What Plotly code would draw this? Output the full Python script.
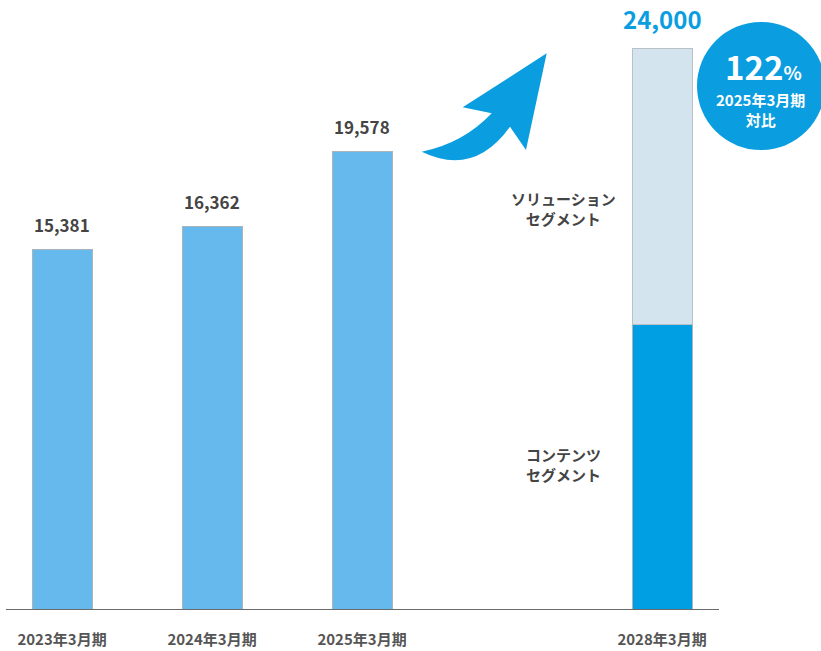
import plotly.graph_objects as go

# ---- data ----
categories = ["2023年3月期", "2024年3月期", "2025年3月期", "2028年3月期"]
cat_pos = [0, 1, 2, 4]
actual_values = [15381, 16362, 19578]
target_total = 24000
contents_value = 12200
solution_value = target_total - contents_value
growth_label = "122"
circle_sub = "2025年3月期<br>対比"

W, H = 821, 651
PLOT_BOTTOM = 610  # pixel row of the axis
FONT = "Noto Sans CJK JP"

def px(x):
    return x / W

def py(y):
    return (PLOT_BOTTOM - y) / PLOT_BOTTOM

fig = go.Figure()

fig.add_trace(go.Bar(
    x=cat_pos[:3], y=actual_values, width=0.4,
    marker=dict(color="#66b9ec", line=dict(color="#a9b4bb", width=1)),
    hoverinfo="skip", showlegend=False,
))
fig.add_trace(go.Bar(
    x=[cat_pos[3]], y=[contents_value], width=0.4,
    marker=dict(color="#009fe3", line=dict(color="#a9b4bb", width=1)),
    hoverinfo="skip", showlegend=False,
))
fig.add_trace(go.Bar(
    x=[cat_pos[3]], y=[solution_value], width=0.4,
    marker=dict(color="#d4e4ee", line=dict(color="#b9c1c6", width=1)),
    hoverinfo="skip", showlegend=False,
))

annotations = []
for xp, v in zip(cat_pos[:3], actual_values):
    annotations.append(dict(
        x=xp, y=v, xref="x", yref="y", text=f"<b>{v:,}</b>", showarrow=False,
        xanchor="center", yanchor="bottom", yshift=11,
        font=dict(family=FONT, size=17, color="#444444"),
    ))
annotations.append(dict(
    x=cat_pos[3], y=target_total, xref="x", yref="y", text=f"<b>{target_total:,}</b>",
    showarrow=False, xanchor="center", yanchor="bottom", yshift=10,
    font=dict(family=FONT, size=24, color="#0a9ee0"),
))
annotations.append(dict(
    x=cat_pos[3], y=contents_value + solution_value * 0.42, xref="x", yref="y",
    text="<b>ソリューション<br>セグメント</b>", showarrow=False, xshift=-99,
    xanchor="center", yanchor="middle",
    font=dict(family=FONT, size=15, color="#444444"), align="center",
))
annotations.append(dict(
    x=cat_pos[3], y=contents_value * 0.51, xref="x", yref="y",
    text="<b>コンテンツ<br>セグメント</b>", showarrow=False, xshift=-99,
    xanchor="center", yanchor="middle",
    font=dict(family=FONT, size=15, color="#444444"), align="center",
))
# circle texts
annotations.append(dict(
    x=px(763), y=py(66), xref="paper", yref="paper", xanchor="center", yanchor="middle",
    text=f"<b>{growth_label}<span style='font-size:19px'>%</span></b>", showarrow=False,
    font=dict(family=FONT, size=33, color="white"),
))
annotations.append(dict(
    x=px(760), y=py(109), xref="paper", yref="paper", xanchor="center", yanchor="middle",
    text=f"<b>{circle_sub}</b>", showarrow=False,
    font=dict(family=FONT, size=15, color="white"), align="center",
))

shapes = []
# axis baseline
shapes.append(dict(type="line", xref="paper", yref="y", x0=px(6), x1=px(719), y0=0, y1=0,
                   line=dict(color="#6b6b6b", width=2)))
# circle
shapes.append(dict(type="circle", xref="paper", yref="paper",
                   x0=px(697), x1=px(825), y0=py(150), y1=py(22),
                   fillcolor="#0a9ee0", line=dict(width=0), layer="above"))
# curved arrow
pts = [("M", (546.7, 53.3)), ("L", (462.7, 107.3)), ("L", (491.7, 113.3)),
       ("Q", (463, 143.5), (421.7, 151.7)), ("Q", (474, 177), (510, 126.7)),
       ("L", (526, 150))]
path = ""
for seg in pts:
    cmd = seg[0]
    coords = " ".join(f"{px(p[0]):.5f},{py(p[1]):.5f}" for p in seg[1:])
    path += f"{cmd} {coords} "
path += "Z"
shapes.append(dict(type="path", xref="paper", yref="paper", path=path,
                   fillcolor="#0a9ee0", line=dict(width=0)))

x_left = -62 / 150
x_right = (W - 62) / 150
y_max = PLOT_BOTTOM / ((PLOT_BOTTOM - 48) / target_total)

fig.update_layout(
    width=W, height=H, barmode="stack",
    margin=dict(l=0, r=0, t=0, b=H - PLOT_BOTTOM),
    paper_bgcolor="white", plot_bgcolor="white",
    xaxis=dict(range=[x_left, x_right], tickmode="array", tickvals=cat_pos,
               ticktext=[f"<b>{c}</b>" for c in categories], showgrid=False,
               zeroline=False, showline=False, ticks="", ticklabelstandoff=19,
               automargin=False,
               tickfont=dict(family=FONT, size=15, color="#555555")),
    yaxis=dict(range=[0, y_max], visible=False, showgrid=False, zeroline=False,
               automargin=False),
    annotations=annotations, shapes=shapes,
)

fig.write_html("out.html")
